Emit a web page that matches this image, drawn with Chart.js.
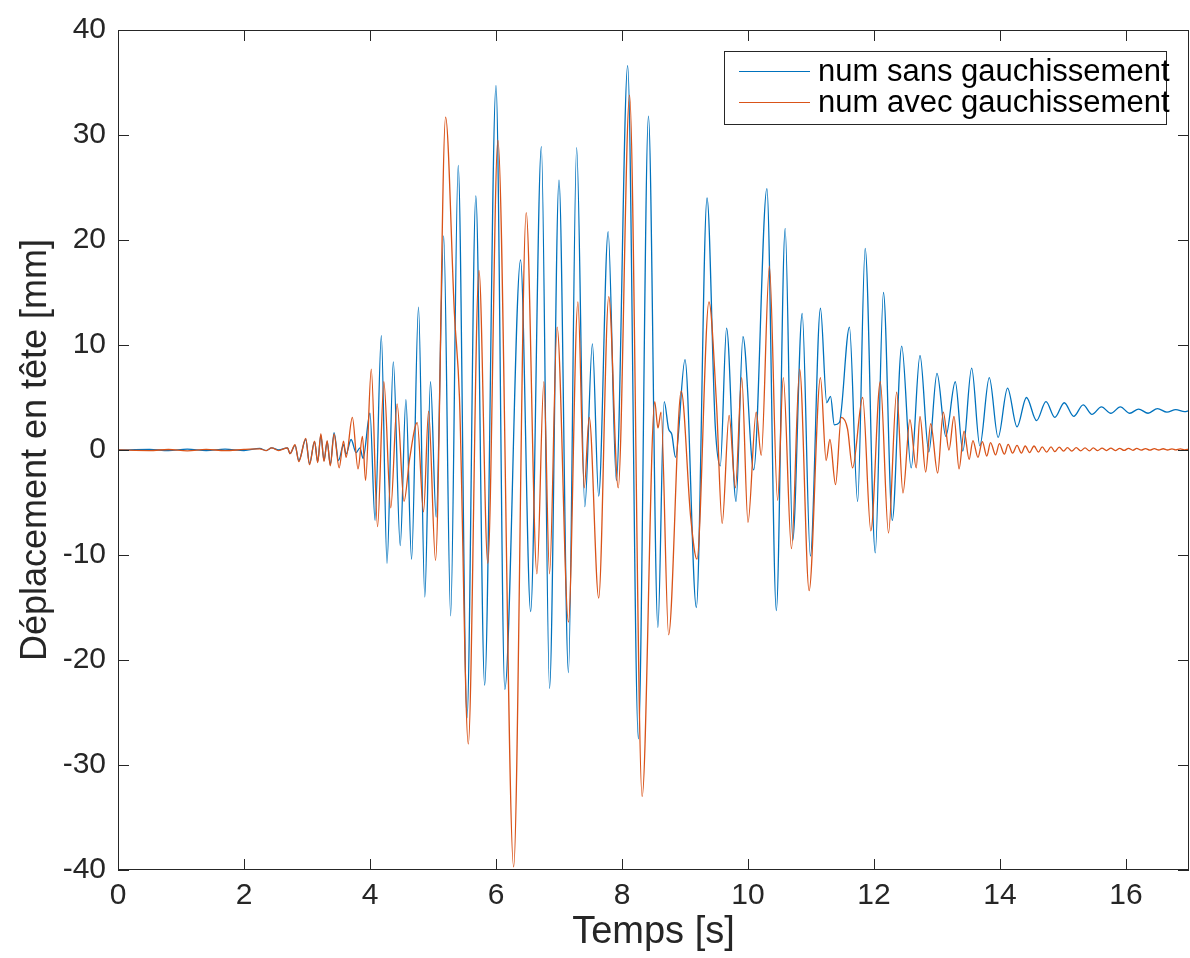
<!DOCTYPE html>
<html>
<head>
<meta charset="utf-8">
<script src="https://cdn.jsdelivr.net/npm/chart.js"></script>
<style>
  body { margin: 0; background: #fff; }
  #wrap { width: 1190px; height: 958px; }
</style>
</head>
<body>
<div id="wrap"><canvas id="myChart" width="1190" height="958"></canvas></div>
<script>
// Déplacement en tête - num sans gauchissement (extrema)
const tempsSans = [
  0, 0.5, 0.8, 1.1, 1.4, 1.7, 2.0, 2.25, 2.35, 2.44, 2.55, 2.69, 2.73, 2.81, 2.87, 2.98,
  3.04, 3.12, 3.17, 3.22, 3.27, 3.32, 3.37, 3.43, 3.50, 3.58, 3.62, 3.70, 3.78, 3.84, 3.89,
  4.00, 4.08, 4.18, 4.27, 4.37, 4.48, 4.57, 4.66, 4.77, 4.87, 4.96, 5.05, 5.17, 5.28, 5.40,
  5.54, 5.68, 5.82, 6.00, 6.14, 6.39, 6.55, 6.72, 6.85, 7.00, 7.15, 7.28, 7.41, 7.53, 7.63,
  7.78, 7.91, 8.09, 8.26, 8.42, 8.57, 8.67, 8.74, 8.79, 8.85, 9.00, 9.18, 9.35, 9.48, 9.56,
  9.66, 9.81, 9.92, 10.09, 10.30, 10.45, 10.59, 10.71, 10.86, 10.99, 11.15, 11.25, 11.31,
  11.37, 11.45, 11.61, 11.74, 11.86, 12.02, 12.15, 12.29, 12.44, 12.59, 12.73, 12.87, 13.00,
  13.14, 13.29, 13.41, 13.55, 13.68, 13.83, 13.97, 14.12, 14.27, 14.42, 14.58, 14.73, 14.87,
  15.02, 15.17, 15.32, 15.46, 15.61, 15.76, 15.91, 16.06, 16.20, 16.35, 16.50, 16.65, 16.79,
  16.93, 17.0
];
const deplSans = [
  0, 0.05, -0.05, 0.08, -0.05, 0.08, -0.05, 0.15, -0.05, 0.2, 0.0, 0.2, -0.35, 0.45, -1.0, 1.0,
  -1.3, 0.8, -1.1, 1.4, -1.0, 0.8, -1.4, 1.65, -1.0, 0.5, -0.4, 1.0, -0.25, 0.2, -0.8,
  3.5, -6.7, 10.9, -10.8, 8.4, -9.1, 4.8, -10.4, 13.6, -14.0, 6.5, -6.4, 20.4, -15.8, 27.1,
  -25.5, 24.2, -22.4, 34.7, -22.8, 18.1, -15.4, 28.9, -22.7, 25.7, -21.2, 28.8, -5.4, 10.1, -4.4,
  20.8, -2.9, 36.6, -27.5, 31.8, -16.9, 4.6, 2.0, 1.5, -0.7, 8.6, -15.0, 24.0, 2.3, -1.5,
  11.6, -4.9, 10.8, -1.9, 24.9, -15.3, 21.1, -8.6, 13.0, -10.1, 13.5, 4.5, 5.1,
  2.4, 2.6, 11.7, -4.9, 19.2, -9.8, 15.0, -6.7, 9.9, -1.7, 9.0, -0.2, 7.3,
  1.3, 6.5, -0.1, 7.8, 0.4, 6.9, 1.2, 5.9, 2.2, 5.0, 2.8, 4.6, 3.1,
  4.5, 3.2, 4.3, 3.4, 4.1, 3.5, 4.1, 3.5, 3.9, 3.5, 3.95, 3.6, 3.85,
  3.65, 3.75
];

// Déplacement en tête - num avec gauchissement
const tempsAvec = [
  0, 0.5, 0.8, 1.1, 1.4, 1.7, 2.0, 2.25, 2.35, 2.44, 2.55, 2.69, 2.73, 2.81, 2.87, 2.98,
  3.04, 3.12, 3.17, 3.22, 3.27, 3.32, 3.37, 3.43, 3.51, 3.58, 3.62, 3.72, 3.81, 3.88, 3.93,
  4.02, 4.12, 4.22, 4.33, 4.43, 4.54, 4.63, 4.75, 4.85, 4.93, 5.04, 5.20, 5.34, 5.42, 5.56,
  5.73, 5.87, 6.03, 6.28, 6.48, 6.65, 6.76, 6.85, 6.97, 7.15, 7.30, 7.40, 7.48, 7.63, 7.79,
  7.94, 8.12, 8.32, 8.52, 8.57, 8.62, 8.74, 8.94, 9.09, 9.19, 9.38, 9.50, 9.59, 9.70, 9.80,
  9.90, 10.00, 10.13, 10.21, 10.34, 10.47, 10.56, 10.69, 10.82, 10.97, 11.15, 11.24, 11.30,
  11.39, 11.48, 11.58, 11.66, 11.82, 11.95, 12.10, 12.23, 12.36, 12.46, 12.57, 12.67, 12.73,
  12.82, 12.90, 13.01, 13.10, 13.19, 13.27, 13.35, 13.43, 13.51, 13.57, 13.65, 13.72, 13.79,
  13.85, 13.93, 13.99, 14.07, 14.13, 14.20, 14.27, 14.34, 14.40, 14.47, 14.54, 14.61, 14.67,
  14.74, 14.81, 14.87, 14.94, 15.01, 15.07, 15.14, 15.21, 15.28, 15.35, 15.42, 15.48, 15.55,
  15.62, 15.69, 15.76, 15.83, 15.90, 15.97, 16.04, 16.11, 16.17, 16.24, 16.31, 16.38, 16.45,
  16.52, 16.59, 16.66, 16.73, 16.79, 16.86, 16.93, 17.0
];
const deplAvec = [
  0, -0.05, 0.05, -0.08, 0.06, -0.06, 0.05, 0.1, -0.05, 0.2, -0.05, 0.2, -0.35, 0.5, -1.1, 1.1,
  -1.4, 0.85, -1.2, 1.55, -1.1, 0.9, -1.5, 1.5, -1.7, 0.85, -0.7, 3.1, -1.8, 1.3, -2.9,
  7.7, -7.3, 6.5, -5.5, 4.4, -4.9, -0.8, 2.6, -5.9, 3.7, -10.5, 31.7, 13.0, 5.0, -28.0,
  17.1, -10.8, 29.5, -39.7, 22.6, -11.8, 6.5, -11.8, 11.7, -16.4, 14.1, -3.6, 3.1, -14.1, 14.6,
  -3.6, 33.8, -33.0, 4.6, 2.1, 3.6, -17.6, 5.6, -6.4, -10.4, 14.1, 4.4, -7.0, 3.3, -3.6,
  6.9, -6.9, 3.6, -0.5, 17.5, -4.8, 6.9, -9.4, 7.7, -13.4, 6.9, -1.0, 1.0,
  -3.3, 3.1, 2.0, -1.7, 5.0, -7.7, 6.5, -7.9, 5.5, -4.1, 2.9, -1.7, 3.2,
  -2.1, 2.5, -2.2, 3.6, 0.0, 3.2, -1.8, 1.8, -0.9, 0.9, -0.7, 0.8, -0.57,
  0.7, -0.47, 0.6, -0.4, 0.54, -0.3, 0.44, -0.3, 0.38, -0.25, 0.38, -0.2, 0.3,
  -0.2, 0.3, -0.15, 0.28, -0.1, 0.22, -0.1, 0.22, -0.08, 0.2, -0.08, 0.2, -0.06,
  0.18, -0.05, 0.18, -0.05, 0.16, -0.04, 0.16, -0.03, 0.15, -0.02, 0.14, -0.02, 0.13,
  0.0, 0.12, 0.0, 0.11, 0.01, 0.1, 0.02, 0.08
];

const xTicks = [0, 2, 4, 6, 8, 10, 12, 14, 16];
const yTicks = [-40, -30, -20, -10, 0, 10, 20, 30, 40];
const nomsSeries = ['num sans gauchissement', 'num avec gauchissement'];
const couleurs = ['#0072BD', '#D95319'];

const police = '"Liberation Sans", Arial, Helvetica, sans-serif';
const gris = '#262626';

// cadre, graduations internes et légende encadrée (style MATLAB)
const cadre = {
  id: 'cadre',
  afterDraw(chart) {
    const { ctx, chartArea: a, scales: { x, y } } = chart;
    ctx.save();
    ctx.strokeStyle = gris;
    ctx.lineWidth = 1;
    ctx.beginPath();
    xTicks.forEach(v => {
      const px = Math.round(x.getPixelForValue(v)) + 0.5;
      ctx.moveTo(px, a.bottom); ctx.lineTo(px, a.bottom - 11);
      ctx.moveTo(px, a.top); ctx.lineTo(px, a.top + 11);
    });
    yTicks.forEach(v => {
      const py = Math.round(y.getPixelForValue(v)) + 0.5;
      ctx.moveTo(a.left, py); ctx.lineTo(a.left + 11, py);
      ctx.moveTo(a.right, py); ctx.lineTo(a.right - 11, py);
    });
    ctx.stroke();
    ctx.strokeRect(a.left + 0.5, a.top + 0.5, a.right - a.left - 1, a.bottom - a.top - 1);

    // légende
    const bx = 724, by = 51, bw = 442, bh = 73;
    ctx.fillStyle = '#fff';
    ctx.fillRect(bx, by, bw, bh);
    ctx.strokeRect(bx + 0.5, by + 0.5, bw, bh);
    ctx.font = '31px ' + police;
    ctx.textBaseline = 'middle';
    nomsSeries.forEach((nom, i) => {
      const ly = by + 20 + i * 31;
      ctx.strokeStyle = couleurs[i];
      ctx.lineWidth = 1.2;
      ctx.beginPath();
      ctx.moveTo(739, ly + 0.5); ctx.lineTo(810, ly + 0.5);
      ctx.stroke();
      ctx.fillStyle = '#000';
      ctx.fillText(nom, 818, ly + 1);
    });
    ctx.restore();
  }
};

const serie = (ts, vs) => ts.map((t, i) => ({ x: t, y: vs[i] }));

new Chart(document.getElementById('myChart'), {
  type: 'line',
  data: {
    datasets: [
      { label: nomsSeries[0], data: serie(tempsSans, deplSans), borderColor: couleurs[0],
        borderWidth: 1.3, pointRadius: 0, cubicInterpolationMode: 'monotone', order: 1 },
      { label: nomsSeries[1], data: serie(tempsAvec, deplAvec), borderColor: couleurs[1],
        borderWidth: 1.3, pointRadius: 0, cubicInterpolationMode: 'monotone', order: 0 }
    ]
  },
  options: {
    responsive: false,
    animation: false,
    devicePixelRatio: 1,
    layout: { padding: { top: 28, right: 1, left: 0, bottom: 0 } },
    plugins: { legend: { display: false }, tooltip: { enabled: false } },
    scales: {
      x: {
        type: 'linear', min: 0, max: 17,
        afterBuildTicks: s => { s.ticks = xTicks.map(v => ({ value: v })); },
        afterFit: s => { s.height = 88; },
        grid: { display: false, drawTicks: false },
        border: { display: false },
        ticks: { color: gris, padding: 8, maxRotation: 0, font: { family: police, size: 30 } },
        title: { display: true, text: 'Temps [s]', color: gris, padding: { top: 0, bottom: 3 },
                 font: { family: police, size: 38 } }
      },
      y: {
        type: 'linear', min: -40, max: 40,
        afterBuildTicks: s => { s.ticks = yTicks.map(v => ({ value: v })); },
        afterFit: s => { s.width = 118; },
        grid: { display: false, drawTicks: false },
        border: { display: false },
        ticks: { color: gris, padding: 12, font: { family: police, size: 30 } },
        title: { display: true, text: 'Déplacement en tête [mm]', color: gris,
                 padding: { top: 14, bottom: 0 }, font: { family: police, size: 36 } }
      }
    }
  },
  plugins: [cadre]
});
</script>
</body>
</html>
